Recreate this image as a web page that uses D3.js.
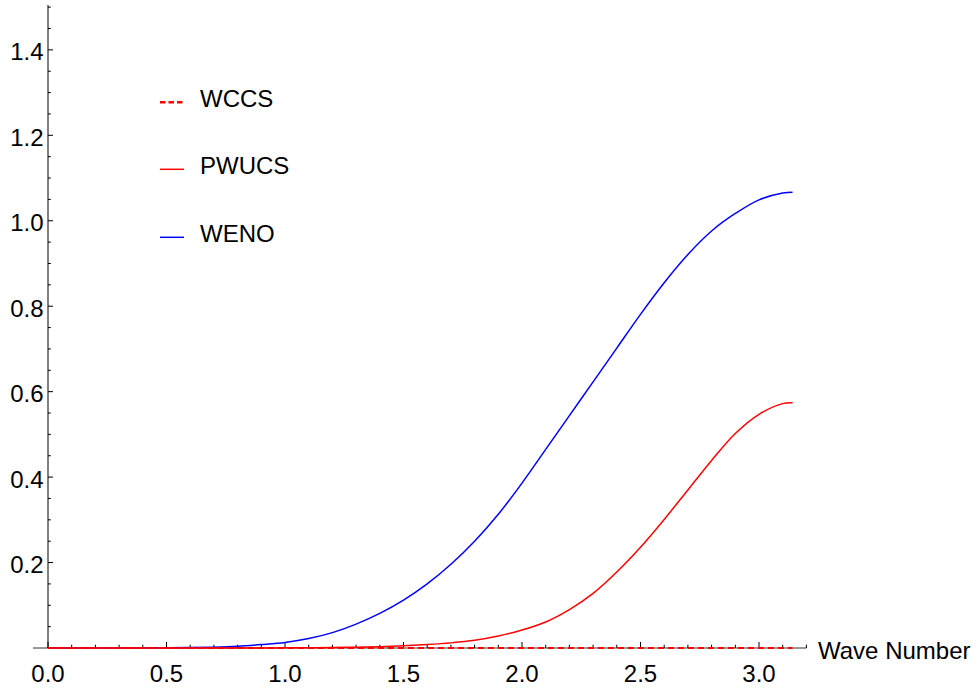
<!DOCTYPE html>
<html>
<head>
<meta charset="utf-8">
<script src="https://cdn.jsdelivr.net/npm/d3@7/dist/d3.min.js"></script>
<style>
  html, body { margin: 0; padding: 0; background: #fff; }
  svg text { font-family: "Liberation Sans", Arial, sans-serif; fill: #000; }
</style>
</head>
<body>
<svg id="chart" width="978" height="690"></svg>
<script>
// Wave numbers (0 .. pi) at which the dissipation curves are sampled
const waveNumber = [0.0, 0.1, 0.2, 0.3, 0.4, 0.5, 0.6, 0.7, 0.8, 0.9,
                    1.0, 1.1, 1.2, 1.3, 1.4, 1.5, 1.6, 1.7, 1.8, 1.9,
                    2.0, 2.1, 2.2, 2.3, 2.4, 2.5, 2.6, 2.7, 2.8, 2.9,
                    3.0, 3.1, Math.PI];

const wccs = [0, 0, 0, 0, 0, 0, 0, 0, 0, 0,
              0, 0, 0, 0, 0, 0, 0, 0, 0, 0,
              0, 0, 0, 0, 0, 0, 0, 0, 0, 0,
              0, 0, 0];

const pwucs = [0, 0, 0, 0, 0, 0, 0, 0.0001, 0.0001, 0.0002,
               0.0003, 0.0006, 0.001, 0.002, 0.003, 0.005, 0.008, 0.012, 0.018, 0.028,
               0.042, 0.061, 0.090, 0.128, 0.178, 0.236, 0.301, 0.370, 0.439, 0.502,
               0.547, 0.572, 0.574];

const weno = [0, 0, 0, 0.0001, 0.0002, 0.0005, 0.001, 0.002, 0.004, 0.008,
              0.013, 0.022, 0.036, 0.056, 0.081, 0.112, 0.150, 0.196, 0.250, 0.313,
              0.386, 0.465, 0.544, 0.623, 0.702, 0.781, 0.855, 0.921, 0.976, 1.017,
              1.049, 1.065, 1.067];

const seriesNames = ["WCCS", "PWUCS", "WENO"];
const seriesColors = ["#ff0000", "#ff0000", "#0000ff"];
const seriesDash = ["6,4", null, null];
const seriesWidth = [1.8, 1.5, 1.5];

const xMajorTicks = [0.0, 0.5, 1.0, 1.5, 2.0, 2.5, 3.0];
const yMajorTicks = [0.2, 0.4, 0.6, 0.8, 1.0, 1.2, 1.4];
const xTitle = "Wave Number";

const svg = d3.select("#chart");

const x = d3.scaleLinear().domain([0, 3.2]).range([48, 806.4]);
const y = d3.scaleLinear().domain([0, 1.505]).range([648, 5]);

const axisG = svg.append("g");

// x axis line and ticks (pointing up)
axisG.append("line")
  .attr("x1", 33).attr("x2", x(3.2))
  .attr("y1", y(0)).attr("y2", y(0))
  .attr("stroke", "#333").attr("stroke-width", 1);

const xMinor = d3.range(1, 33).map(i => i / 10).filter(v => !xMajorTicks.some(t => Math.abs(t - v) < 1e-9));
axisG.selectAll(".xminor").data(xMinor).join("line")
  .attr("x1", d => x(d)).attr("x2", d => x(d))
  .attr("y1", y(0)).attr("y2", y(0) - 3.3)
  .attr("stroke", "#000").attr("stroke-width", 1);
axisG.selectAll(".xmajor").data(xMajorTicks).join("line")
  .attr("x1", d => x(d)).attr("x2", d => x(d))
  .attr("y1", y(0)).attr("y2", y(0) - 6)
  .attr("stroke", "#000").attr("stroke-width", 1);
axisG.selectAll(".xlab").data(xMajorTicks).join("text")
  .attr("x", d => x(d)).attr("y", 681.5)
  .attr("text-anchor", "middle")
  .attr("font-size", 24)
  .text(d => d3.format(".1f")(d));

axisG.append("text")
  .attr("x", 818).attr("y", 659)
  .attr("font-size", 24)
  .text(xTitle);

// y axis line and ticks (pointing right)
axisG.append("line")
  .attr("x1", x(0)).attr("x2", x(0))
  .attr("y1", y(0)).attr("y2", y(1.505))
  .attr("stroke", "#000").attr("stroke-width", 1);

const yMinor = d3.range(1, 31).map(i => i * 0.05).filter(v => !yMajorTicks.some(t => Math.abs(t - v) < 1e-9));
axisG.selectAll(".yminor").data(yMinor).join("line")
  .attr("x1", x(0)).attr("x2", x(0) + 2.8)
  .attr("y1", d => y(d)).attr("y2", d => y(d))
  .attr("stroke", "#000").attr("stroke-width", 1);
axisG.selectAll(".ymajor").data(yMajorTicks).join("line")
  .attr("x1", x(0)).attr("x2", x(0) + 5)
  .attr("y1", d => y(d)).attr("y2", d => y(d))
  .attr("stroke", "#000").attr("stroke-width", 1);
axisG.selectAll(".ylab").data(yMajorTicks).join("text")
  .attr("x", 43.5).attr("y", d => y(d) + 10.5)
  .attr("text-anchor", "end")
  .attr("font-size", 24)
  .text(d => d3.format(".1f")(d));

// curves
const seriesValues = [wccs, pwucs, weno];
const line = d3.line()
  .x(d => x(d[0]))
  .y(d => y(d[1]))
  .curve(d3.curveCatmullRom.alpha(0.5));

const drawOrder = [2, 1, 0];
drawOrder.forEach(i => {
  const pts = waveNumber.map((k, j) => [k, seriesValues[i][j]]);
  svg.append("path")
    .datum(pts)
    .attr("d", line)
    .attr("fill", "none")
    .attr("stroke", seriesColors[i])
    .attr("stroke-width", seriesWidth[i])
    .attr("stroke-dasharray", seriesDash[i]);
});

// legend
const legendY = [102.3, 169.3, 237.3];
const legend = svg.append("g");
seriesNames.forEach((name, i) => {
  legend.append("line")
    .attr("x1", 160).attr("x2", 184)
    .attr("y1", legendY[i]).attr("y2", legendY[i])
    .attr("stroke", seriesColors[i])
    .attr("stroke-width", i === 0 ? 2.5 : 1.5)
    .attr("stroke-dasharray", i === 0 ? "5.5,3" : null);
  legend.append("text")
    .attr("x", 200).attr("y", legendY[i] + 5)
    .attr("font-size", 24)
    .text(name);
});
</script>
</body>
</html>
